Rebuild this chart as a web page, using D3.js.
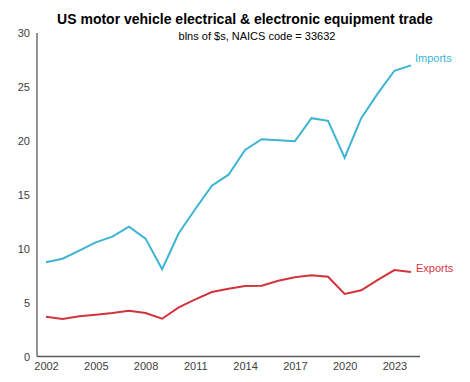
<!DOCTYPE html>
<html><head><meta charset="utf-8">
<script src="https://cdn.jsdelivr.net/npm/d3@7"></script>
<style>body{margin:0;background:#fff}svg{display:block}</style>
</head><body>
<script>
const years = d3.range(2002, 2025);
const imports = [8.74, 9.07, 9.81, 10.59, 11.11, 12.04, 10.93, 8.09, 11.43, 13.68, 15.84, 16.86, 19.16, 20.15, 20.06, 19.96, 22.1, 21.85, 18.44, 22.1, 24.4, 26.5, 27.0];
const exports_ = [3.69, 3.48, 3.73, 3.88, 4.03, 4.25, 4.03, 3.5, 4.56, 5.3, 5.98, 6.29, 6.54, 6.57, 7.03, 7.35, 7.53, 7.4, 5.8, 6.14, 7.1, 8.02, 7.84];
const xTicks = [2002, 2005, 2008, 2011, 2014, 2017, 2020, 2023];
const yTicks = [0, 5, 10, 15, 20, 25, 30];
const title = "US motor vehicle electrical & electronic equipment trade";
const subtitle = "blns of $s, NAICS code = 33632";

const W = 470, H = 382;
const svg = d3.select("body").append("svg").attr("width", W).attr("height", H)
  .style("font-family", "'Liberation Sans', Arial, sans-serif");

const x = d3.scaleLinear().domain([2002, 2024]).range([46, 411]);
const y = d3.scaleLinear().domain([0, 30]).range([356.5, 33]);

svg.append("text").attr("x", 245).attr("y", 24).attr("text-anchor", "middle")
  .attr("font-size", 14).attr("font-weight", "bold").attr("fill", "#000").text(title);
svg.append("text").attr("x", 257).attr("y", 40).attr("text-anchor", "middle")
  .attr("font-size", 11).attr("fill", "#000").text(subtitle);

// axes
const yAxis = svg.append("g").attr("transform", "translate(37,0)")
  .call(d3.axisLeft(y).tickValues(yTicks).tickSize(0).tickPadding(7));
const xAxis = svg.append("g").attr("transform", "translate(0,356.5)")
  .call(d3.axisBottom(x).tickValues(xTicks).tickFormat(d3.format("d")).tickSize(0).tickPadding(6));
yAxis.select(".domain").attr("stroke", "#595959").attr("stroke-width", 1.3).attr("d", `M0,${y(30)}V${y(0)}`);
xAxis.select(".domain").attr("stroke", "#595959").attr("stroke-width", 1.3).attr("d", `M37,0H420`);
svg.selectAll(".tick text").attr("font-size", 11).attr("fill", "#404040")
  .style("font-family", "'Liberation Sans', Arial, sans-serif");

const line = d3.line().x((d, i) => x(years[i])).y(d => y(d));
svg.append("path").datum(imports).attr("d", line).attr("fill", "none")
  .attr("stroke", "#3cb4d2").attr("stroke-width", 2);
svg.append("path").datum(exports_).attr("d", line).attr("fill", "none")
  .attr("stroke", "#d2343c").attr("stroke-width", 2);

svg.append("text").attr("x", x(2024) + 4).attr("y", y(imports[22]) - 3)
  .attr("font-size", 11).attr("fill", "#3cb4d2").text("Imports");
svg.append("text").attr("x", x(2024) + 5).attr("y", y(exports_[22]) - 0)
  .attr("font-size", 11).attr("fill", "#d2343c").text("Exports");
</script>
</body></html>
